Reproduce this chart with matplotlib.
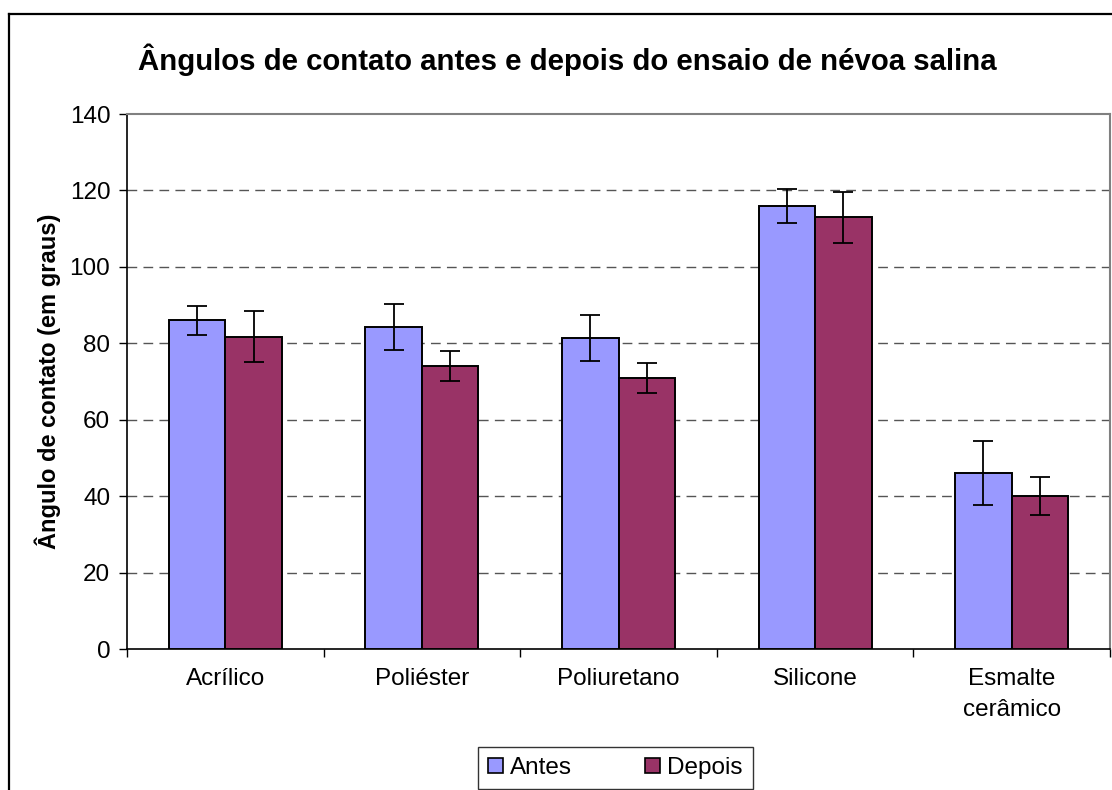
import matplotlib
matplotlib.use("Agg")
import matplotlib.pyplot as plt
import numpy as np
from matplotlib.lines import Line2D
from matplotlib.patches import Patch

plt.rcParams['font.family'] = ['Liberation Sans', 'DejaVu Sans']

categories = ["Acrílico", "Poliéster", "Poliuretano", "Silicone", "Esmalte\ncerâmico"]
antes = [86.0, 84.2, 81.3, 115.9, 46.0]
antes_err = [3.8, 6.0, 6.0, 4.5, 8.4]
depois = [81.7, 74.0, 71.0, 113.0, 40.0]
depois_err = [6.7, 3.9, 3.9, 6.7, 5.0]
yticks = [0, 20, 40, 60, 80, 100, 120, 140]

c_antes = "#9999FF"
c_depois = "#993366"

FS = 17.5

fig = plt.figure(figsize=(11.12, 7.9), dpi=100)
ax = fig.add_axes([127/1112, 1-649/790, (1110-127)/1112, (649-114)/790])

x = np.arange(len(categories))
w = 0.287
err_kw = dict(ecolor='black', elinewidth=1.3, capsize=7, capthick=1.3)
ax.bar(x - w/2, antes, w, yerr=antes_err, color=c_antes, edgecolor='black', linewidth=1.4,
       error_kw=err_kw, zorder=3, label="Antes")
ax.bar(x + w/2, depois, w, yerr=depois_err, color=c_depois, edgecolor='black', linewidth=1.4,
       error_kw=err_kw, zorder=3, label="Depois")

ax.set_xlim(-0.5, len(categories) - 0.5)
ax.set_ylim(0, 140)
ax.set_yticks(yticks)
ax.set_yticklabels([str(v) for v in yticks], fontsize=FS)
ax.tick_params(axis='y', direction='out', length=6, width=1, pad=6)

ax.set_xticks(x)
ax.set_xticklabels(categories, fontsize=FS, linespacing=1.5)
ax.tick_params(axis='x', which='major', length=0, pad=14)
ax.set_xticks(np.arange(-0.5, len(categories), 1.0), minor=True)
ax.tick_params(axis='x', which='minor', direction='out', length=6, width=1)

for v in yticks[1:-1]:
    ax.axhline(v, color='#555555', linestyle=(0, (7, 4.5)), linewidth=1.0, zorder=1)

ax.spines['left'].set_color('black')
ax.spines['bottom'].set_color('black')
ax.spines['left'].set_linewidth(1.2)
ax.spines['bottom'].set_linewidth(1.2)
ax.spines['top'].set_color('#808080')
ax.spines['right'].set_color('#808080')
ax.spines['top'].set_linewidth(1.5)
ax.spines['right'].set_linewidth(1.5)

ax.set_ylabel("Ângulo de contato (em graus)", fontsize=17, fontweight='bold', labelpad=6)

fig.text(567.5/1112, 1-60/790, "Ângulos de contato antes e depois do ensaio de névoa salina",
         ha='center', va='center', fontsize=21.2, fontweight='bold')

handles = [Patch(facecolor=c_antes, edgecolor='black', linewidth=1.2, label="Antes"),
           Patch(facecolor=c_depois, edgecolor='black', linewidth=1.2, label="Depois")]
leg = fig.legend(handles=handles, loc='center', bbox_to_anchor=(615.5/1112, 1-768/790), ncol=2,
                 fontsize=FS, frameon=True, fancybox=False, edgecolor='black',
                 handlelength=0.6, handleheight=0.6, handletextpad=0.3, columnspacing=3.0,
                 borderpad=0.42, borderaxespad=0)
leg.get_frame().set_linewidth(1.0)

fig.add_artist(Line2D([8.5/1112, 8.5/1112], [0, 1-13.5/790], transform=fig.transFigure,
                      color='black', linewidth=1.6))
fig.add_artist(Line2D([8.5/1112, 1], [1-13.5/790, 1-13.5/790], transform=fig.transFigure,
                      color='black', linewidth=1.6))

fig.savefig("out.png", dpi=100)
